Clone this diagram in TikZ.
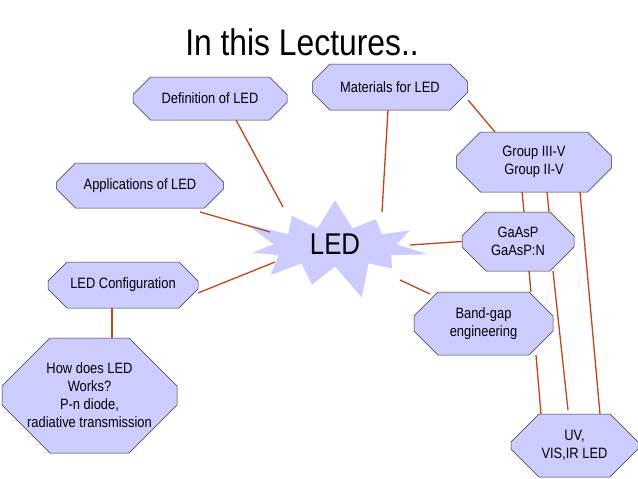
\documentclass[tikz,border=0pt]{standalone}
\usepackage{fontspec}
\setmainfont[FakeStretch=0.86]{Liberation Sans}
\usetikzlibrary{shapes.misc,shapes.symbols}
\definecolor{lnk}{RGB}{190,70,25}
\definecolor{fillc}{RGB}{204,204,255}
\begin{document}
\begin{tikzpicture}[x=1pt,y=-1pt,
  oct/.style={chamfered rectangle,chamfered rectangle xsep=12pt,chamfered rectangle ysep=12pt,draw=black!80,line width=0.5pt,fill=fillc,inner sep=0pt,align=center,font=\fontsize{15}{18}\selectfont},
  lk/.style={draw=lnk,line width=1.3pt}]
\useasboundingbox (0,0) rectangle (638,479);
\node[font=\fontsize{37}{40}\selectfont] (t) at (302,42) {In this Lectures..};
\node[starburst,fill=fillc,minimum width=200pt,minimum height=115pt,starburst points=11,starburst point height=38pt,inner sep=0pt] (led) at (335,247) {};
\node[font=\fontsize{30}{32}\selectfont] (ledt) at (335,244) {LED};
\node[oct,minimum width=154pt,minimum height=43pt] (def) at (210,98.5) {Definition of LED};
\node[oct,minimum width=155pt,minimum height=46pt] (mat) at (390,87) {Materials for LED};
\node[oct,minimum width=167pt,minimum height=45pt] (app) at (140,185.5) {Applications of LED};
\node[oct,minimum width=155pt,minimum height=60pt] (grp) at (534,162) {Group III-V\\Group II-V};
\node[oct,minimum width=112pt,minimum height=59pt] (gaa) at (518,241.5) {GaAsP\\GaAsP:N};
\node[oct,minimum width=150pt,minimum height=46pt] (cfg) at (123,285) {LED Configuration};
\node[oct,minimum width=139pt,minimum height=63pt] (bg) at (483.5,323.5) {Band-gap\\engineering};
\node[oct,minimum width=175pt,minimum height=115pt,chamfered rectangle xsep=24pt,chamfered rectangle ysep=24pt] (how) at (89.5,395.5) {How does LED\\Works?\\P-n diode,\\radiative transmission};
\node[oct,minimum width=127pt,minimum height=63pt,chamfered rectangle xsep=14pt,chamfered rectangle ysep=14pt] (uv) at (574.5,445.5) {UV,\\VIS,IR LED};
\coordinate (e1) at (283,207);
\coordinate (e2) at (382,212);
\coordinate (e3) at (270,232);
\coordinate (e4) at (275,262);
\coordinate (e5) at (410,245);
\coordinate (e6) at (400,280);
\coordinate (e7) at (568,410);
\draw[lk] (236,120) -- (e1);
\draw[lk] (388,110) -- (e2);
\draw[lk] (468,100) -- (495,132);
\draw[lk] (200,212) -- (e3);
\draw[lk] (198,293) -- (e4);
\draw[lk] (112,308) -- (112,338);
\draw[lk] (e5) -- (gaa.west);
\draw[lk] (e6) -- (430,294);
\draw[lk] (522,192) -- (524,212);
\draw[lk] (547,192) -- (549,212);
\draw[lk] (580,192) -- (600,414);
\draw[lk] (529,271) -- (531,292);
\draw[lk] (536,355) -- (541,414);
\draw[lk] (553,271) -- (e7);
\end{tikzpicture}
\end{document}
